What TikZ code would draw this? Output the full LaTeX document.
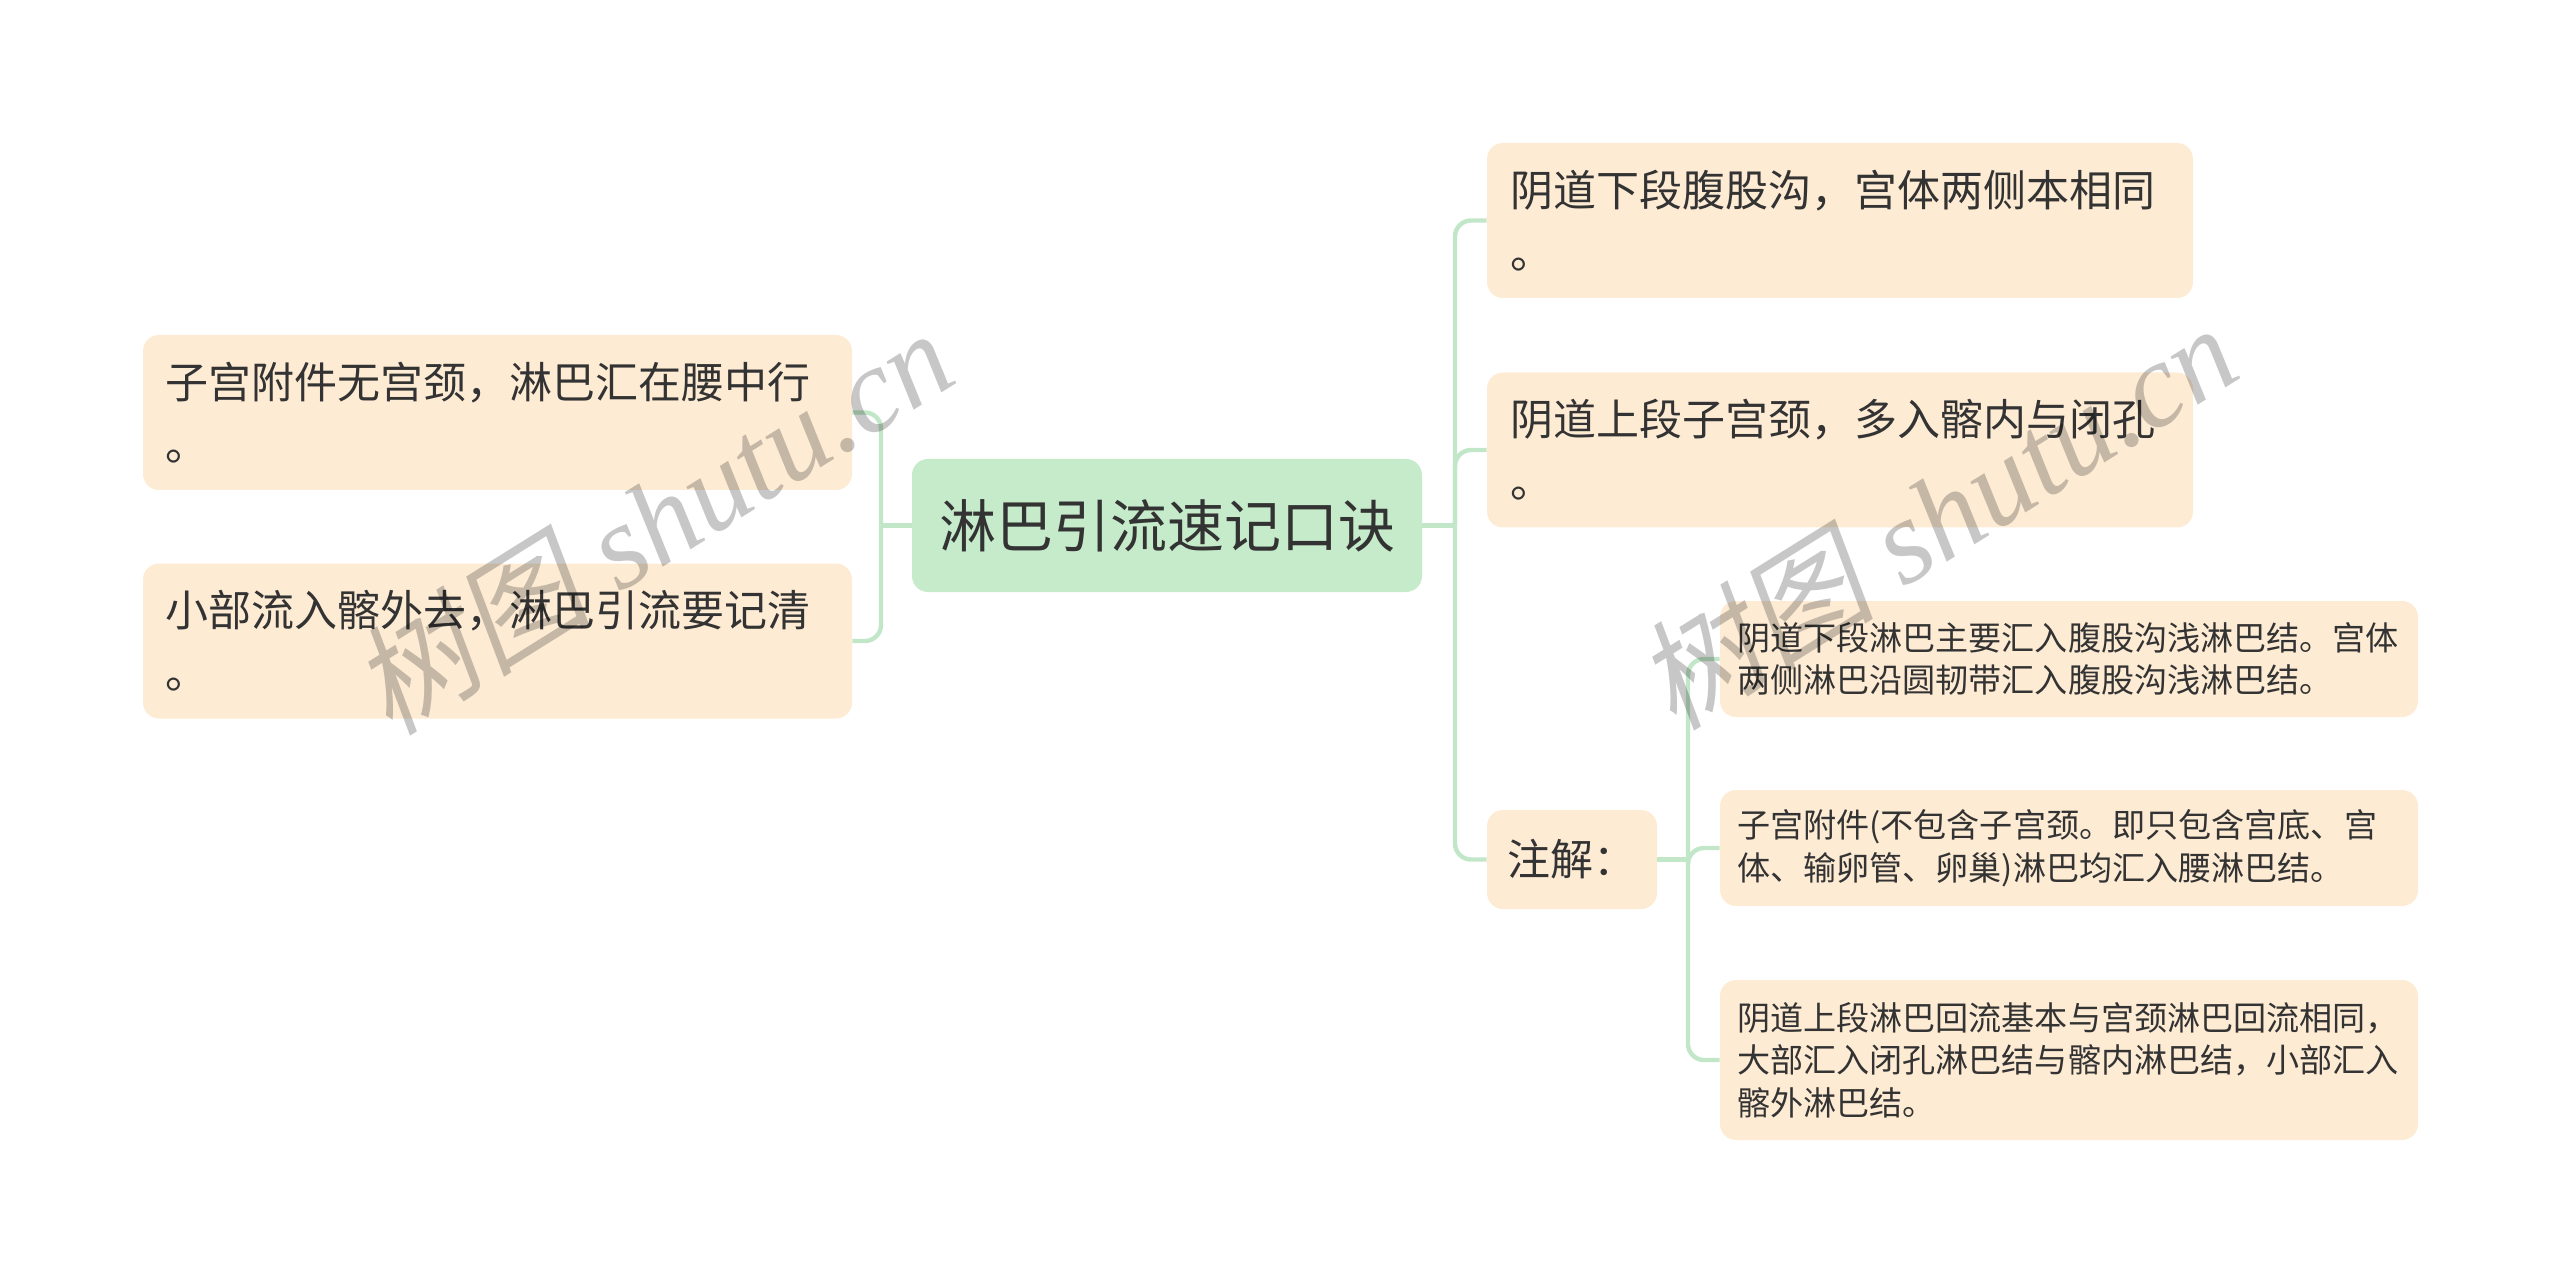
\documentclass[tikz,border=0pt]{standalone}
\usepackage{fontspec}
\setmainfont{Liberation Serif}
\newfontfamily\cjk{Noto Sans CJK SC}
\newfontfamily\wmcjk[FakeSlant=0.2]{Noto Sans CJK SC}
\definecolor{peach}{HTML}{FDEBD4}
\definecolor{mint}{HTML}{C6EBCB}
\definecolor{linec}{HTML}{C2E6C8}
\definecolor{txt}{HTML}{333333}
\begin{document}
\begin{tikzpicture}[x=0.5pt,y=-0.5pt,
  box/.style={rounded corners=8pt, fill=peach, inner sep=0pt, align=left, text=txt},
  bigbox/.style={box, font=\cjk\fontsize{21.5}{31}\selectfont, minimum height=77.5pt},
  lbox/.style={bigbox, minimum width=354.5pt, text width=332.5pt},
  rbox/.style={bigbox, minimum width=353pt, text width=330pt},
  subbox/.style={box, font=\cjk\fontsize{16.55}{21.3}\selectfont, minimum width=349pt, text width=332pt},
  rootbox/.style={rounded corners=8pt, fill=mint, inner sep=0pt, text=txt, font=\cjk\fontsize{28.5}{34}\selectfont, minimum width=255pt, minimum height=66.5pt},
  conn/.style={draw=linec, line width=2.2pt},
  elbow/.style={conn, rounded corners=8pt},
  wm/.style={text=black, opacity=0.22, rotate=32, font=\fontsize{60}{62}\selectfont}]
\useasboundingbox (0,0) rectangle (2560,1283);
% root
\node[rootbox] (root) at (1167,525.5) {淋巴引流速记口诀};
% left
\node[lbox] (L1) at (497.5,412.5) {子宫附件无宫颈，淋巴汇在腰中行\\。};
\node[lbox] (L2) at (497.5,641) {小部流入髂外去，淋巴引流要记清\\。};
% right
\node[rbox] (A) at (1840,220.5) {阴道下段腹股沟，宫体两侧本相同\\。};
\node[rbox] (B) at (1840,450) {阴道上段子宫颈，多入髂内与闭孔\\。};
\node[box, font=\cjk\fontsize{21.5}{31}\selectfont, minimum width=85pt, minimum height=49.5pt, text width=65pt] (N) at (1572,859.5) {注解：};
% sub notes
\node[subbox, minimum height=58pt] (S1) at (2069,659) {阴道下段淋巴主要汇入腹股沟浅淋巴结。宫体\\两侧淋巴沿圆韧带汇入腹股沟浅淋巴结。};
\node[subbox, minimum height=58pt] (S2) at (2069,848) {子宫附件(不包含子宫颈。即只包含宫底、宫\\体、输卵管、卵巢)淋巴均汇入腰淋巴结。};
\node[subbox, minimum height=80pt] (S3) at (2069,1060) {阴道上段淋巴回流基本与宫颈淋巴回流相同，\\大部汇入闭孔淋巴结与髂内淋巴结，小部汇入\\髂外淋巴结。};
% junctions
\coordinate (jL) at (881,525.5);
\coordinate (jR) at (1455,525.5);
\coordinate (jN) at (1688,859.5);
% connectors
\draw[conn] (root.west) -- (jL);
\draw[elbow] (jL) |- (L1.east);
\draw[elbow] (jL) |- (L2.east);
\draw[conn] (root.east) -- (jR);
\draw[elbow] (jR) |- (A.west);
\draw[elbow] (jR) |- (B.west);
\draw[elbow] (jR) |- (N.west);
\draw[conn] (N.east) -- (jN);
\draw[elbow] (jN) |- (S1.west);
\draw[elbow] (jN) |- (S2.west);
\draw[elbow] (jN) |- (S3.west);
% watermarks (on top)
\node[wm] (wm1) at (652,520) {{\wmcjk 树图} \itshape shutu.cn};
\node[wm] (wm2) at (1936,515) {{\wmcjk 树图} \itshape shutu.cn};
\end{tikzpicture}
\end{document}
